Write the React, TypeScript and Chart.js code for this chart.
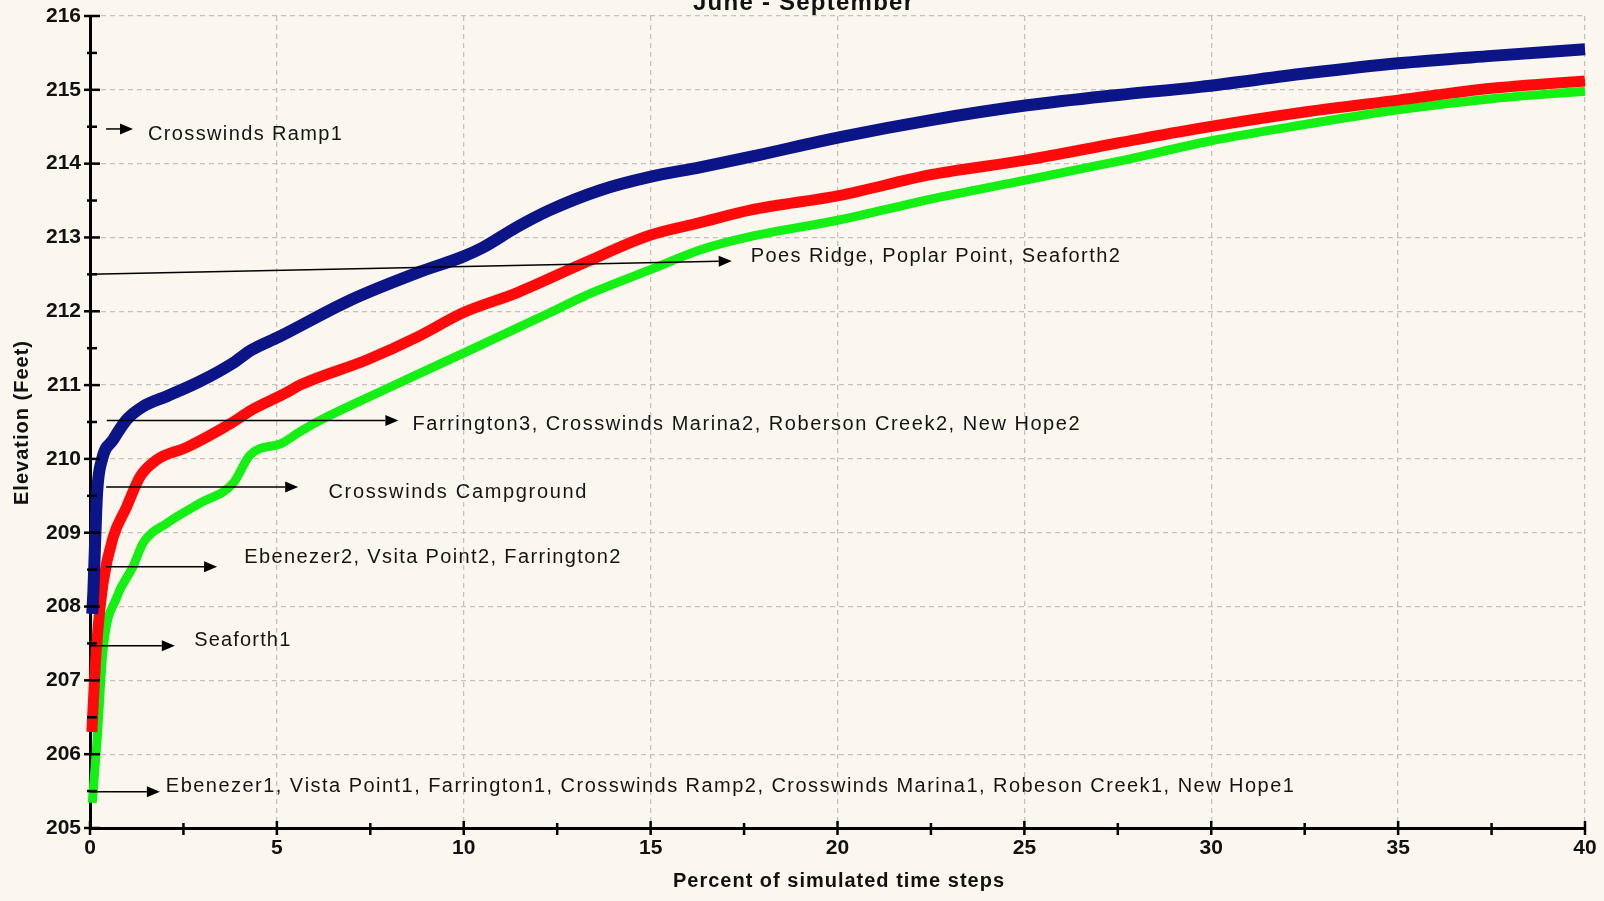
import React, { useEffect, useRef } from 'react';
import { Chart, registerables } from 'chart.js';

Chart.register(...registerables);

// ---- Data ----
const blueX = [0.06, 0.09, 0.13, 0.19, 0.32, 0.62, 0.98, 1.42, 2.06, 2.94, 3.83, 4.3, 5.08, 6.96, 8.75, 9.98, 10.5, 11.42, 12.3, 13.65, 14.98, 16.32, 17.66, 20.07, 22.5, 25.07, 27.5, 29.7, 32.5, 35, 37.5, 40];
const blueY = [207.9, 208.2, 208.77, 209.54, 209.99, 210.26, 210.53, 210.71, 210.85, 211.05, 211.3, 211.47, 211.66, 212.15, 212.52, 212.74, 212.86, 213.14, 213.37, 213.64, 213.82, 213.95, 214.09, 214.36, 214.59, 214.79, 214.93, 215.04, 215.22, 215.36, 215.46, 215.55];

const redX = [0.05, 0.12, 0.19, 0.35, 0.62, 0.98, 1.34, 1.79, 2.6, 3.83, 4.28, 5.27, 5.62, 7.4, 8.75, 9.98, 11.42, 13.2, 14.98, 16.32, 17.66, 20.07, 22.5, 25.07, 27.5, 29.7, 32.5, 35, 37.5, 40];
const redY = [206.3, 207.0, 207.55, 208.32, 208.94, 209.35, 209.76, 209.99, 210.16, 210.5, 210.65, 210.9, 211.0, 211.34, 211.65, 211.98, 212.25, 212.65, 213.03, 213.2, 213.37, 213.57, 213.85, 214.05, 214.28, 214.48, 214.7, 214.86, 215.02, 215.12];

const greenX = [0.06, 0.19, 0.35, 0.72, 1.15, 1.42, 2.06, 2.94, 3.83, 4.28, 5.16, 5.62, 6.34, 7.85, 9.98, 12.3, 13.2, 14.98, 16.32, 17.66, 20.07, 22.5, 25.07, 27.5, 30, 32.5, 35, 37.5, 40];
const greenY = [205.34, 206.19, 207.41, 208.13, 208.54, 208.86, 209.13, 209.4, 209.67, 210.05, 210.22, 210.37, 210.57, 210.93, 211.43, 211.98, 212.2, 212.56, 212.83, 213.01, 213.24, 213.52, 213.78, 214.03, 214.31, 214.53, 214.73, 214.88, 214.98];

const chartTitle = 'June - September';
const xAxisTitle = 'Percent of simulated time steps';
const yAxisTitle = 'Elevation (Feet)';

const annotationLabels = [
  'Crosswinds Ramp1',
  'Poes Ridge, Poplar Point, Seaforth2',
  'Farrington3, Crosswinds Marina2, Roberson Creek2, New Hope2',
  'Crosswinds Campground',
  'Ebenezer2, Vsita Point2, Farrington2',
  'Seaforth1',
  'Ebenezer1, Vista Point1, Farrington1, Crosswinds Ramp2, Crosswinds Marina1, Robeson Creek1, New Hope1',
];
const arrowStartX = [0.43, 0, 0.45, 0.43, 0.43, 0, 0];
const arrowStartY = [214.47, 212.5, 210.52, 209.62, 208.54, 207.47, 205.49];
const arrowEndX = [1.15, 17.17, 8.25, 5.57, 3.4, 2.27, 1.87];
const arrowEndY = [214.47, 212.68, 210.52, 209.62, 208.54, 207.47, 205.49];
const labelX = [1.55, 17.68, 8.63, 6.38, 4.13, 2.79, 2.03];
const labelY = [214.4, 212.74, 210.46, 209.55, 208.66, 207.54, 205.56];

// ---- Styling ----
const BG = '#FCF7EE';
const FONT = "'Liberation Sans', Arial, sans-serif";
const LABEL_WIDTHS = [194, 369, 667, 258, 376, 96, 1128];

function toPts(xs: number[], ys: number[]) {
  return xs.map((x, i) => ({ x, y: ys[i] }));
}

function drawFitted(ctx: CanvasRenderingContext2D, text: string, x: number, y: number, width: number) {
  const chars = Array.from(text);
  const natural = chars.reduce((s, c) => s + ctx.measureText(c).width, 0);
  const extra = chars.length > 1 ? (width - natural) / (chars.length - 1) : 0;
  let cx = x;
  for (const ch of chars) {
    ctx.fillText(ch, cx, y);
    cx += ctx.measureText(ch).width + extra;
  }
}

const decorPlugin = {
  id: 'decor',
  beforeDraw(chart: any) {
    const { ctx, width, height } = chart;
    ctx.save();
    ctx.fillStyle = BG;
    ctx.fillRect(0, 0, width, height);
    ctx.restore();
  },
  afterDraw(chart: any) {
    const { ctx } = chart;
    const xs = chart.scales.x;
    const ys = chart.scales.y;
    ctx.save();
    // tick marks crossing the axes
    ctx.strokeStyle = '#000';
    ctx.lineWidth = 2.5;
    const ax = xs.left;
    const ay = ys.bottom;
    ys.ticks.forEach((t: any) => {
      const py = ys.getPixelForValue(t.value);
      const major = Math.abs(t.value - Math.round(t.value)) < 1e-6;
      ctx.beginPath();
      ctx.moveTo(ax - (major ? 6 : 3), py);
      ctx.lineTo(ax + (major ? 10 : 7), py);
      ctx.stroke();
    });
    xs.ticks.forEach((t: any) => {
      const px = xs.getPixelForValue(t.value);
      const major = Math.abs(t.value / 5 - Math.round(t.value / 5)) < 1e-6;
      ctx.beginPath();
      ctx.moveTo(px, ay - (major ? 7 : 5));
      ctx.lineTo(px, ay + 7);
      ctx.stroke();
    });

    // annotation arrows
    ctx.fillStyle = '#000';
    ctx.lineWidth = 1.5;
    for (let i = 0; i < annotationLabels.length; i++) {
      const x0 = xs.getPixelForValue(arrowStartX[i]);
      const y0 = ys.getPixelForValue(arrowStartY[i]);
      const x1 = xs.getPixelForValue(arrowEndX[i]);
      const y1 = ys.getPixelForValue(arrowEndY[i]);
      const ang = Math.atan2(y1 - y0, x1 - x0);
      const hl = 13;
      const hw = 5.5;
      const bx = x1 - hl * Math.cos(ang);
      const by = y1 - hl * Math.sin(ang);
      ctx.beginPath();
      ctx.moveTo(x0, y0);
      ctx.lineTo(bx, by);
      ctx.stroke();
      ctx.beginPath();
      ctx.moveTo(x1, y1);
      ctx.lineTo(bx - hw * Math.sin(ang), by + hw * Math.cos(ang));
      ctx.lineTo(bx + hw * Math.sin(ang), by - hw * Math.cos(ang));
      ctx.closePath();
      ctx.fill();
    }

    // annotation texts
    ctx.fillStyle = '#141414';
    ctx.font = `20px ${FONT}`;
    ctx.textBaseline = 'middle';
    ctx.textAlign = 'left';
    for (let i = 0; i < annotationLabels.length; i++) {
      drawFitted(ctx, annotationLabels[i], xs.getPixelForValue(labelX[i]), ys.getPixelForValue(labelY[i]), LABEL_WIDTHS[i]);
    }

    // chart title (cut off at top like reference)
    ctx.fillStyle = '#111';
    ctx.font = `bold 24px ${FONT}`;
    ctx.textBaseline = 'alphabetic';
    drawFitted(ctx, chartTitle, 693, 10, 220);

    // x axis title
    ctx.font = `bold 20px ${FONT}`;
    drawFitted(ctx, xAxisTitle, 673, 887, 331);

    // y axis title
    ctx.save();
    ctx.translate(22, 423);
    ctx.rotate(-Math.PI / 2);
    ctx.textBaseline = 'middle';
    ctx.font = `bold 20px ${FONT}`;
    drawFitted(ctx, yAxisTitle, -82, 0, 164);
    ctx.restore();

    ctx.restore();
  },
};

function zeroPad(s: any) {
  s.paddingTop = 0;
  s.paddingBottom = 0;
  s.paddingLeft = 0;
  s.paddingRight = 0;
}

export default function App() {
  const ref = useRef<HTMLCanvasElement | null>(null);

  useEffect(() => {
    document.body.style.margin = '0';
    document.body.style.background = BG;
    const canvas = ref.current;
    if (!canvas) return;
    const chart = new Chart(canvas, {
      type: 'line',
      data: {
        datasets: [
          {
            label: 'Blue',
            data: toPts(blueX, blueY),
            borderColor: '#0B1587',
            borderWidth: 12,
            pointRadius: 0,
            cubicInterpolationMode: 'monotone',
            clip: false,
          } as any,
          {
            label: 'Red',
            data: toPts(redX, redY),
            borderColor: '#FF0A0A',
            borderWidth: 11,
            pointRadius: 0,
            cubicInterpolationMode: 'monotone',
            clip: false,
          } as any,
          {
            label: 'Green',
            data: toPts(greenX, greenY),
            borderColor: '#14F014',
            borderWidth: 9,
            pointRadius: 0,
            cubicInterpolationMode: 'monotone',
            clip: false,
          } as any,
        ],
      },
      options: {
        animation: false,
        responsive: false,
        devicePixelRatio: 1,
        layout: { padding: { top: 16, right: 19, left: 0, bottom: 0 } },
        plugins: {
          legend: { display: false },
          tooltip: { enabled: false },
          title: { display: false },
        },
        scales: {
          x: {
            type: 'linear',
            min: 0,
            max: 40,
            afterFit: (s: any) => {
              s.height = 73;
              zeroPad(s);
            },
            ticks: {
              stepSize: 2.5,
              autoSkip: false,
              maxRotation: 0,
              minRotation: 0,
              padding: 8,
              color: '#111',
              font: { family: FONT, size: 21, weight: 'bold' },
              callback: (v: any) => (Math.abs(Number(v) / 5 - Math.round(Number(v) / 5)) < 1e-6 ? String(v) : ''),
            },
            grid: {
              drawTicks: false,
              lineWidth: 1.3,
              color: (c: any) => {
                const v = c.tick ? c.tick.value : undefined;
                return v !== undefined && v > 0 && Math.abs(v / 5 - Math.round(v / 5)) < 1e-6 ? '#c2c2c2' : 'rgba(0,0,0,0)';
              },
            },
            border: { display: true, color: '#000', width: 3, dash: [5, 4] },
          },
          y: {
            type: 'linear',
            min: 205,
            max: 216,
            afterFit: (s: any) => {
              s.width = 90;
              zeroPad(s);
            },
            ticks: {
              stepSize: 0.5,
              autoSkip: false,
              padding: 9,
              color: '#111',
              font: { family: FONT, size: 21, weight: 'bold' },
              callback: (v: any) => (Math.abs(Number(v) - Math.round(Number(v))) < 1e-6 ? String(v) : ''),
            },
            grid: {
              drawTicks: false,
              lineWidth: 1.3,
              color: (c: any) => {
                const v = c.tick ? c.tick.value : undefined;
                return v !== undefined && v > 205 && Math.abs(v - Math.round(v)) < 1e-6 ? '#c2c2c2' : 'rgba(0,0,0,0)';
              },
            },
            border: { display: true, color: '#000', width: 3, dash: [5, 4] },
          },
        },
      } as any,
      plugins: [decorPlugin],
    });
    return () => chart.destroy();
  }, []);

  return (
    <div style={{ width: 1604, height: 901, background: BG }}>
      <canvas ref={ref} width={1604} height={901} style={{ display: 'block' }} />
    </div>
  );
}
